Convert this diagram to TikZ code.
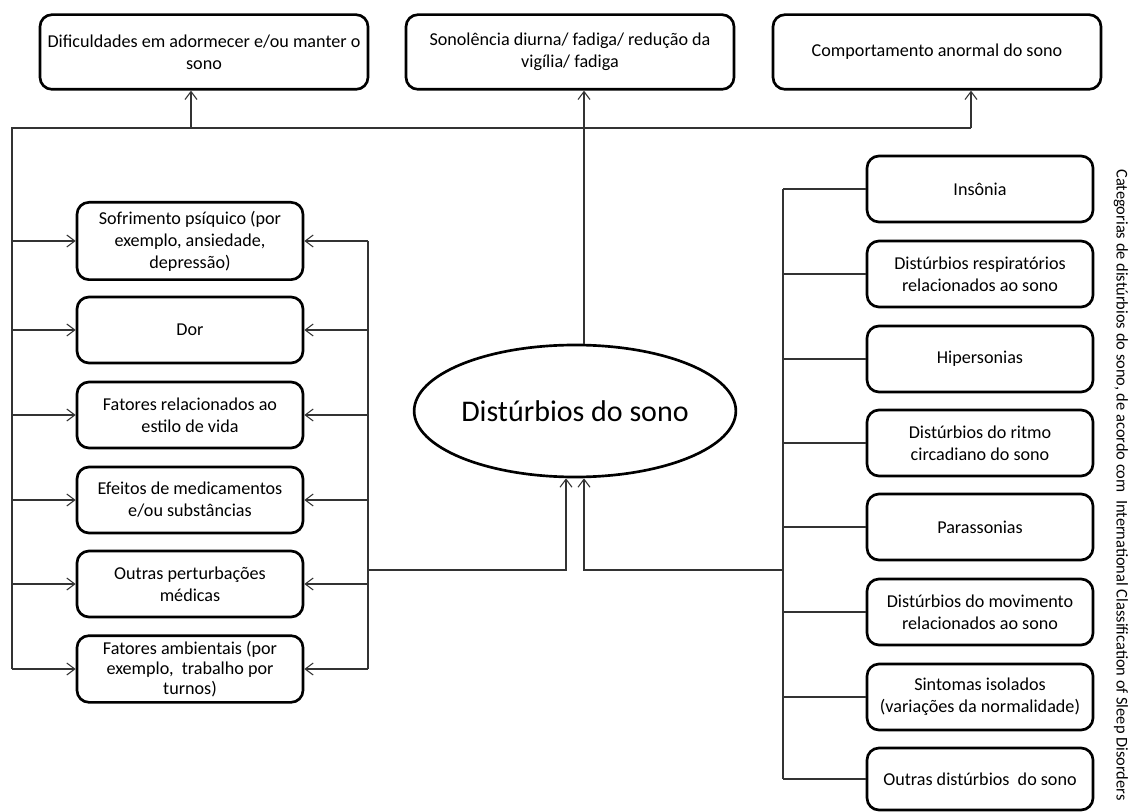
\documentclass[tikz,border=0pt]{standalone}
\usepackage{fontspec}
\setmainfont{Carlito}
\usetikzlibrary{shapes.geometric}
\usetikzlibrary{arrows.meta}

\begin{document}
\begin{tikzpicture}[x=0.75pt,y=0.75pt,yscale=-1,xscale=1,
	caixa/.style={draw, line width=2pt, rounded corners=9pt, align=center, inner sep=1pt, font=\fontsize{13.6}{16.6}\selectfont},
	sintoma/.style={caixa, minimum width=246pt, minimum height=56pt},
	fator/.style={caixa, minimum width=169.5pt, minimum height=49.5pt},
	categoria/.style={caixa, minimum width=169.5pt, minimum height=49.5pt},
	ligacao/.style={line width=0.8pt, color=black!80},
	seta/.style={ligacao, -{Straight Barb[length=6pt,width=9pt,line width=0.8pt]}}]
	      		\useasboundingbox (0,0) rectangle (1134,812);
	      		
	      		% Text Node
	      		\node [sintoma] (dificuldades) at (204,52) {Dificuldades em adormecer e/ou manter o\\sono};
	      		% Text Node
	      		\node [sintoma] (sonolencia) at (570,52) {Sonolência diurna/ fadiga/ redução da\\vigília/ fadiga};
	      		% Text Node
	      		\node [sintoma] (comportamento) at (937,52) {Comportamento anormal do sono};
	      		
	      		%Shape: Ellipse
	      		\node [draw, ellipse, line width=2pt, minimum width=199.5pt, minimum height=99pt, inner sep=0pt, font=\fontsize{22.5}{26}\selectfont] (disturbios) at (575,411) {Distúrbios do sono};
	      		
	      		% Text Node
	      		\node [fator, minimum height=58pt] (psiquico) at (190,241) {Sofrimento psíquico (por\\exemplo, ansiedade,\\depressão)};
	      		\node [fator] (dor) at (190,330) {Dor};
	      		\node [fator] (estilo) at (190,415) {Fatores relacionados ao\\estilo de vida};
	      		\node [fator] (medicamentos) at (190,500) {Efeitos de medicamentos\\e/ou substâncias};
	      		\node [fator] (medicas) at (190,584) {Outras perturbações\\médicas};
	      		\node [fator, minimum height=50pt, font=\fontsize{13.6}{15.2}\selectfont] (ambientais) at (190,669) {Fatores ambientais (por\\exemplo,\ \ trabalho por\\turnos)};
	      		
	      		% Text Node
	      		\node [categoria] (insonia) at (980,189) {Insônia};
	      		\node [categoria] (respiratorios) at (980,274) {Distúrbios respiratórios\\relacionados ao sono};
	      		\node [categoria] (hipersonias) at (980,359) {Hipersonias};
	      		\node [categoria] (ritmo) at (980,443) {Distúrbios do ritmo\\circadiano do sono};
	      		\node [categoria] (parassonias) at (980,527) {Parassonias};
	      		\node [categoria] (movimento) at (980,612) {Distúrbios do movimento\\relacionados ao sono};
	      		\node [categoria] (sintomas) at (980,697) {Sintomas isolados\\(variações da normalidade)};
	      		\node [categoria, minimum height=46.5pt] (outros) at (980,779) {Outras distúrbios\ \ do sono};
	      		
	      		% Text Node
	      		\node [rotate=-90, font=\fontsize{12.3}{14}\selectfont] (legenda) at (1121,485) {Categorias de distúrbios do sono, de acordo com\ \ International Classification of Sleep Disorders};
	      		
	      		%Straight Lines
	      		\coordinate (cantoSup) at (12,128);
	      		\coordinate (cantoInf) at (12,669);
	      		\coordinate (pA) at (191,128);
	      		\coordinate (pB) at (584,128);
	      		\coordinate (pC) at (971,128);
	      		\draw [ligacao] (cantoInf) -- (cantoSup) -- (pC);
	      		\draw [seta] (pA) -- (pA |- dificuldades.south);
	      		\draw [seta] (pB |- disturbios.north) -- (pB |- sonolencia.south);
	      		\draw [seta] (pC) -- (pC |- comportamento.south);
	      		\foreach \n in {psiquico,dor,estilo,medicamentos,medicas,ambientais}
	      			\draw [seta] (cantoSup |- \n.west) -- (\n.west);
	      		
	      		%Straight Lines
	      		\coordinate (meioSup) at (368,241);
	      		\coordinate (meioInf) at (368,669);
	      		\draw [ligacao] (meioSup) -- (meioInf);
	      		\foreach \n in {psiquico,dor,estilo,medicamentos,medicas,ambientais}
	      			\draw [seta] (meioSup |- \n.east) -- (\n.east);
	      		
	      		%Straight Lines
	      		\coordinate (juncaoE) at (368,570);
	      		\coordinate (juncaoD) at (783,570);
	      		\draw [seta] (juncaoE) -| ([xshift=-6.75pt]disturbios.south);
	      		\draw [seta] (juncaoD) -| ([xshift=6.75pt]disturbios.south);
	      		
	      		%Straight Lines
	      		\coordinate (barraD) at (783,189);
	      		\draw [ligacao] (barraD |- insonia.west) -- (barraD |- outros.west);
	      		\foreach \n in {insonia,respiratorios,hipersonias,ritmo,parassonias,movimento,sintomas,outros}
	      			\draw [ligacao] (barraD |- \n.west) -- (\n.west);
	      		
\end{tikzpicture}
\end{document}
